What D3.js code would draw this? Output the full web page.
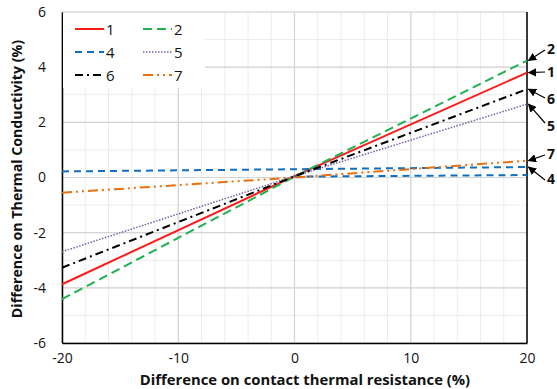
<!DOCTYPE html>
<html><head><meta charset="utf-8">
<script src="https://cdn.jsdelivr.net/npm/d3@7"></script>
<style>body{margin:0;background:#fff}svg{display:block}text{font-family:"Open Sans","Liberation Sans",sans-serif}</style>
</head><body><svg id="c" width="557" height="389"></svg>
<script>
const xs = [-20, 0, 20];
const s1 = [-3.87, 0.05, 3.80];
const s2 = [-4.41, 0.03, 4.24];
const s4a = [0.22, 0.30, 0.38];
const s4b = [null, 0.03, 0.09];
const s5 = [-2.69, 0.05, 2.66];
const s6 = [-3.27, 0.04, 3.20];
const s7 = [-0.55, 0.00, 0.61];
const xTicks = [-20, -10, 0, 10, 20];
const yTicks = [-6, -4, -2, 0, 2, 4, 6];
const xTitle = "Difference on contact thermal resistance (%)";
const yTitle = "Difference on Thermal Conductivity (%)";

const series = [
  {name:"1", v:s1, color:"#ff1a1a", dash:null, w:2},
  {name:"2", v:s2, color:"#1fb050", dash:"9,5", w:2},
  {name:"4", v:s4a, color:"#0f70c0", dash:"7,5", w:2},
  {name:"4b", v:s4b, color:"#0f70c0", dash:"7,5", w:2, noLegend:true},
  {name:"5", v:s5, color:"#7a5fa8", dash:"1.5,1.5", w:1.5},
  {name:"6", v:s6, color:"#000000", dash:"8,4,2,4", w:2},
  {name:"7", v:s7, color:"#e8700e", dash:"10,4,2,4,2,4", w:2}
];
const labelOrder = ["2","1","6","5","7","4"];

const svg = d3.select("#c");
const L=62, R=527, T=12, B=343;
const x = d3.scaleLinear().domain([-20,20]).range([L,R]);
const y = d3.scaleLinear().domain([-6,6]).range([B,T]);
const fmt = d => String(d);

// grid
const g = svg.append("g");
g.selectAll(".mx").data(d3.range(-20,21,2)).join("line")
  .attr("x1",d=>x(d)).attr("x2",d=>x(d)).attr("y1",T).attr("y2",B)
  .attr("stroke","#ececec").attr("stroke-width",1);
g.selectAll(".my").data(d3.range(-6,7,1)).join("line")
  .attr("y1",d=>y(d)).attr("y2",d=>y(d)).attr("x1",L).attr("x2",R)
  .attr("stroke","#ececec").attr("stroke-width",1);
g.selectAll(".Mx").data(xTicks).join("line")
  .attr("x1",d=>x(d)).attr("x2",d=>x(d)).attr("y1",T).attr("y2",B)
  .attr("stroke","#d4d4d4").attr("stroke-width",1.2);
g.selectAll(".My").data(yTicks).join("line")
  .attr("y1",d=>y(d)).attr("y2",d=>y(d)).attr("x1",L).attr("x2",R)
  .attr("stroke","#d4d4d4").attr("stroke-width",1.2);

// axes
const xa = svg.append("g").attr("transform",`translate(0,${B})`)
  .call(d3.axisBottom(x).tickValues(xTicks).tickSize(0).tickPadding(10).tickFormat(fmt));
xa.select(".domain").attr("stroke","#000").attr("stroke-width",1.5);
xa.selectAll("text").attr("font-size",14).attr("fill","#111");
const ya = svg.append("g").attr("transform",`translate(${L},0)`)
  .call(d3.axisLeft(y).tickValues(yTicks).tickSize(0).tickPadding(16).tickFormat(fmt));
ya.select(".domain").attr("stroke","#000").attr("stroke-width",1.5);
ya.selectAll("text").attr("font-size",14).attr("fill","#111");
svg.append("line").attr("x1",R).attr("x2",R).attr("y1",T).attr("y2",B).attr("stroke","#000").attr("stroke-width",1.5);

// lines
const line = d3.line().defined(d=>d[1]!==null).x(d=>x(d[0])).y(d=>y(d[1]));
series.forEach(s=>{
  svg.append("path").datum(xs.map((xv,i)=>[xv,s.v[i]]))
    .attr("d",line).attr("fill","none").attr("stroke",s.color)
    .attr("stroke-width",s.w).attr("stroke-dasharray",s.dash);
});

// legend
const lg = svg.append("g");
lg.append("rect").attr("x",L+1).attr("y",T+1).attr("width",142).attr("height",75).attr("fill","#fff");
series.filter(s=>!s.noLegend).forEach((s,i)=>{
  const col=i%2, row=Math.floor(i/2);
  const lx = 75+col*68, ly = 29+row*23;
  lg.append("line").attr("x1",lx).attr("x2",lx+29).attr("y1",ly).attr("y2",ly)
    .attr("stroke",s.color).attr("stroke-width",s.w).attr("stroke-dasharray",s.dash);
  lg.append("text").attr("x",lx+31).attr("y",ly+5.5).attr("font-size",15).attr("fill","#111").text(s.name);
});

// right labels with arrows
svg.append("defs").append("marker").attr("id","ah").attr("viewBox","0 0 10 10")
  .attr("refX",9).attr("refY",5).attr("markerWidth",7).attr("markerHeight",7).attr("orient","auto")
  .append("path").attr("d","M0,0 L10,5 L0,10 z").attr("fill","#000");
const labelY = {"2":49,"1":72,"6":99,"5":126,"7":154,"4":179};
const arrowStartY = {"2":50,"1":72,"6":98,"5":123,"7":155,"4":180};
labelOrder.forEach(n=>{
  const s = series.find(d=>d.name===n);
  const endY = y(s.v[s.v.length-1]);
  svg.append("line").attr("x1",545).attr("y1",arrowStartY[n]).attr("x2",R+1.5).attr("y2",endY)
    .attr("stroke","#000").attr("stroke-width",1.2).attr("marker-end","url(#ah)");
  svg.append("text").attr("x",551).attr("y",labelY[n]+5).attr("text-anchor","middle")
    .attr("font-size",14).attr("font-weight","bold").attr("fill","#111").text(n);
});

// titles
svg.append("text").attr("x",305).attr("y",385).attr("text-anchor","middle")
  .attr("font-size",14.8).attr("font-weight","bold").attr("fill","#111").text(xTitle);
svg.append("text").attr("transform","translate(22,179) rotate(-90)").attr("text-anchor","middle")
  .attr("font-size",14.2).attr("font-weight","bold").attr("fill","#111").text(yTitle);
</script></body></html>
